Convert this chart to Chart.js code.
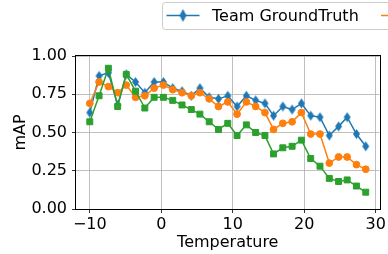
<!DOCTYPE html>
<html>
<head>
<meta charset="utf-8">
<script src="https://cdn.jsdelivr.net/npm/chart.js@4/dist/chart.umd.min.js"></script>
<style>
html, body { margin: 0; padding: 0; background: #fff; overflow: hidden; }
</style>
</head>
<body>
<canvas id="mapChart" width="388" height="254"></canvas>
<script>
// values
const temperatures = [-10, -8.7, -7.4, -6.1, -4.9, -3.6, -2.3, -1.0, 0.3, 1.6, 2.9, 4.2, 5.4, 6.7, 8.0, 9.3,
    10.6, 11.9, 13.2, 14.5, 15.7, 17.0, 18.3, 19.6, 20.9, 22.2, 23.5, 24.8, 26.0, 27.3, 28.6];
const teamGroundTruth = [0.63, 0.87, 0.89, 0.68, 0.88, 0.83, 0.76, 0.83, 0.83, 0.79, 0.77, 0.74, 0.79, 0.73, 0.72, 0.74,
    0.67, 0.74, 0.71, 0.69, 0.61, 0.67, 0.65, 0.69, 0.61, 0.60, 0.48, 0.54, 0.60, 0.49, 0.41];
const orangeSeries = [0.69, 0.83, 0.80, 0.76, 0.81, 0.73, 0.74, 0.79, 0.81, 0.78, 0.76, 0.74, 0.76, 0.72, 0.67, 0.70,
    0.62, 0.70, 0.67, 0.63, 0.52, 0.56, 0.57, 0.63, 0.49, 0.49, 0.30, 0.34, 0.34, 0.29, 0.26];
const greenSeries = [0.57, 0.74, 0.92, 0.67, 0.88, 0.77, 0.66, 0.73, 0.73, 0.71, 0.68, 0.65, 0.62, 0.57, 0.52, 0.56,
    0.48, 0.55, 0.50, 0.48, 0.36, 0.40, 0.41, 0.45, 0.33, 0.28, 0.20, 0.18, 0.19, 0.15, 0.11];
const xTicks = [-10, 0, 10, 20, 30];
const yTicks = [0, 0.25, 0.5, 0.75, 1.0];
const xMin = -11.93, xMax = 30.53;

const BLUE = '#1f77b4', ORANGE = '#ff7f0e', GREEN = '#2ca02c';
const FONT = 'DejaVu Sans';

function thinDiamond(w, h, color) {
    const c = document.createElement('canvas');
    c.width = w + 2; c.height = h + 2;
    const g = c.getContext('2d');
    g.fillStyle = color;
    g.beginPath();
    g.moveTo(c.width / 2, 1);
    g.lineTo(c.width - 1, c.height / 2);
    g.lineTo(c.width / 2, c.height - 1);
    g.lineTo(1, c.height / 2);
    g.closePath();
    g.fill();
    return c;
}

function pts(ys) {
    return temperatures.map((t, i) => ({ x: t, y: ys[i] }));
}

// box around the axes + the clipped legend at the top
const framePlugin = {
    id: 'frame',
    afterDraw(chart) {
        const { ctx, chartArea: a } = chart;
        ctx.save();
        ctx.strokeStyle = '#000';
        ctx.lineWidth = 1;
        ctx.strokeRect(Math.round(a.left) - 0.5, Math.round(a.top) - 0.5,
            Math.round(a.right - a.left) + 1, Math.round(a.bottom - a.top) + 1);

        // legend box
        ctx.fillStyle = 'rgba(255,255,255,0.8)';
        ctx.strokeStyle = '#cccccc';
        ctx.beginPath();
        ctx.roundRect(162.5, 2.5, 260, 27, 3);
        ctx.fill();
        ctx.stroke();

        ctx.lineWidth = 1.5;
        ctx.strokeStyle = BLUE;
        ctx.beginPath();
        ctx.moveTo(166.5, 15.5);
        ctx.lineTo(199.5, 15.5);
        ctx.stroke();
        ctx.drawImage(thinDiamond(7, 13, BLUE), 178.5, 8);

        ctx.strokeStyle = ORANGE;
        ctx.beginPath();
        ctx.moveTo(381, 15.5);
        ctx.lineTo(414, 15.5);
        ctx.stroke();

        ctx.fillStyle = '#000';
        ctx.font = '16px "' + FONT + '"';
        ctx.textBaseline = 'alphabetic';
        ctx.fillText('Team GroundTruth', 212, 20.5);
        ctx.restore();
    }
};

const diamond = thinDiamond(7, 10, BLUE);

new Chart(document.getElementById('mapChart').getContext('2d'), {
    type: 'line',
    data: {
        datasets: [{
            label: 'Team GroundTruth',
            data: pts(teamGroundTruth),
            borderColor: BLUE,
            backgroundColor: BLUE,
            borderWidth: 1.5,
            pointStyle: diamond,
            order: 2
        }, {
            label: 'Series 2',
            data: pts(orangeSeries),
            borderColor: ORANGE,
            backgroundColor: ORANGE,
            borderWidth: 1.5,
            pointStyle: 'circle',
            pointRadius: 3.4,
            pointBorderWidth: 1,
            order: 1
        }, {
            label: 'Series 3',
            data: pts(greenSeries),
            borderColor: GREEN,
            backgroundColor: GREEN,
            borderWidth: 1.5,
            pointStyle: 'rect',
            pointRadius: 4.2,
            pointBorderWidth: 1,
            order: 0
        }]
    },
    options: {
        responsive: false,
        animation: false,
        events: [],
        layout: { padding: { top: 56, right: 5, left: 0, bottom: 0 } },
        plugins: {
            legend: { display: false },
            tooltip: { enabled: false }
        },
        scales: {
            x: {
                type: 'linear',
                min: xMin,
                max: xMax,
                afterBuildTicks: s => { s.ticks = xTicks.map(v => ({ value: v })); },
                afterFit: s => { s.height = 45; },
                grid: { color: '#b0b0b0', lineWidth: 0.8, tickColor: '#000', tickLength: 4 },
                border: { display: false },
                ticks: {
                    padding: 2,
                    color: '#000',
                    font: { family: FONT, size: 16 },
                    maxRotation: 0,
                    callback: v => v < 0 ? '\u2212' + Math.abs(v) : String(v)
                },
                title: {
                    display: true,
                    text: 'Temperature',
                    color: '#000',
                    font: { family: FONT, size: 16 },
                    padding: { top: 0, bottom: 2 }
                }
            },
            y: {
                min: 0,
                max: 1.0,
                afterBuildTicks: s => { s.ticks = yTicks.map(v => ({ value: v })); },
                afterFit: s => { s.width = 76; },
                grid: { color: '#b0b0b0', lineWidth: 0.8, tickColor: '#000', tickLength: 4 },
                border: { display: false },
                ticks: {
                    padding: 5,
                    color: '#000',
                    font: { family: FONT, size: 16 },
                    callback: v => v.toFixed(2)
                },
                title: {
                    display: true,
                    text: 'mAP',
                    color: '#000',
                    font: { family: FONT, size: 16 },
                    padding: { top: 11.4, bottom: 0 }
                }
            }
        }
    },
    plugins: [framePlugin]
});
</script>
</body>
</html>
